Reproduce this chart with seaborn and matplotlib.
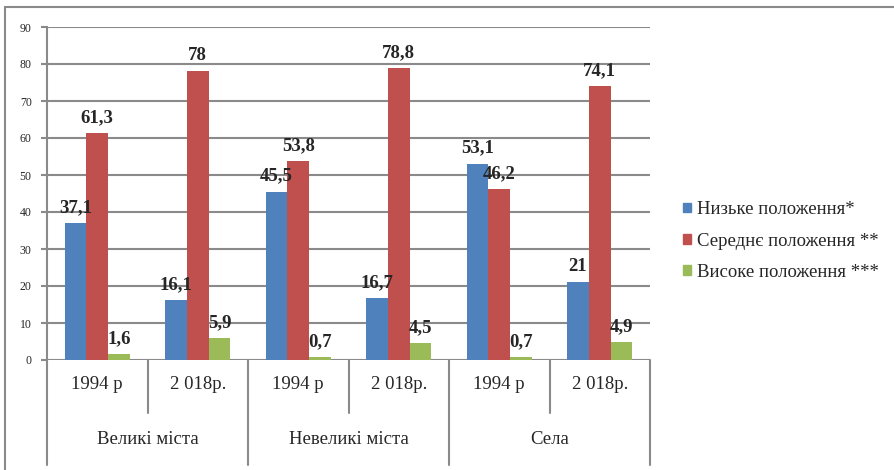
import matplotlib
matplotlib.use("Agg")
import matplotlib.pyplot as plt
from matplotlib.lines import Line2D
import numpy as np
import pandas as pd
import seaborn as sns

settlements = ["Великі міста", "Невеликі міста", "Села"]
years = ["1994 р", "2 018р."]
series = ["Низьке положення*", "Середнє положення **", "Високе положення ***"]
low = [37.1, 16.1, 45.5, 16.7, 53.1, 21]
mid = [61.3, 78, 53.8, 78.8, 46.2, 74.1]
high = [1.6, 5.9, 0.7, 4.5, 0.7, 4.9]
colors = ["#4F81BD", "#C0504D", "#9BBB59"]

periods = [f"{s}|{y}" for s in settlements for y in years]
rows = []
for name, vals in zip(series, [low, mid, high]):
    for p, v in zip(periods, vals):
        rows.append({"period": p, "series": name, "value": v})
df = pd.DataFrame(rows)

sns.set_style("white")
plt.rcParams["font.family"] = ["Liberation Serif", "DejaVu Serif"]

fig = plt.figure(figsize=(8.94, 4.70), dpi=100)
ax = fig.add_axes([47 / 894, 1 - 360 / 470, (650 - 47) / 894, 333 / 470])

sns.barplot(data=df, x="period", y="value", hue="series", order=periods,
            hue_order=series, palette=colors, width=0.65, saturation=1,
            linewidth=0, legend=False, ax=ax)

for cont, vals in zip(ax.containers, [low, mid, high]):
    labels = [f"{v:g}".replace(".", ",") for v in vals]
    ax.bar_label(cont, labels=labels, padding=5, fontsize=13.5,
                 fontweight="bold")

ax.set_ylim(0, 90)
ax.set_xlim(-0.5, len(periods) - 0.5)
ax.set_yticks(np.arange(0, 91, 10))
ax.tick_params(axis="y", labelsize=8.5, length=4, width=1.5,
               color="#8a8a8a", pad=7, left=True)
ax.yaxis.grid(True, color="#8a8a8a", linewidth=1.5)
ax.set_axisbelow(True)
ax.set_xticks([])
ax.set_xlabel("")
ax.set_ylabel("")
for side in ["top", "right", "bottom"]:
    ax.spines[side].set_visible(False)
ax.spines["left"].set_color("#8a8a8a")
ax.spines["left"].set_linewidth(1.5)

# two-level category axis
tr = ax.get_xaxis_transform()
for i in range(len(periods) + 1):
    x = i - 0.5
    bottom = -0.315 if i % 2 == 0 else -0.16
    ax.plot([x, x], [0, bottom], transform=tr, clip_on=False,
            color="#8a8a8a", linewidth=1.5)
for i, p in enumerate(periods):
    ax.text(i, -0.075, p.split("|")[1], transform=tr, ha="center",
            va="center", fontsize=13.5)
for j, s in enumerate(settlements):
    ax.text(2 * j + 0.5, -0.24, s, transform=tr, ha="center",
            va="center", fontsize=13.5)

handles = [plt.Rectangle((0, 0), 1, 1, color=c) for c in colors]
fig.legend(handles, series, loc="center left",
           bbox_to_anchor=(674 / 894, 1 - 241 / 470), frameon=False,
           fontsize=13.5, handlelength=0.4, handleheight=0.4,
           handletextpad=0.35, labelspacing=0.75, borderpad=0)

# outer chart frame
fig.add_artist(Line2D([5 / 894, 1], [1 - 7 / 470, 1 - 7 / 470],
                      color="#8a8a8a", linewidth=1.5))
fig.add_artist(Line2D([5 / 894, 5 / 894], [0, 1 - 7 / 470],
                      color="#8a8a8a", linewidth=1.5))

fig.savefig("out.png", dpi=100)
